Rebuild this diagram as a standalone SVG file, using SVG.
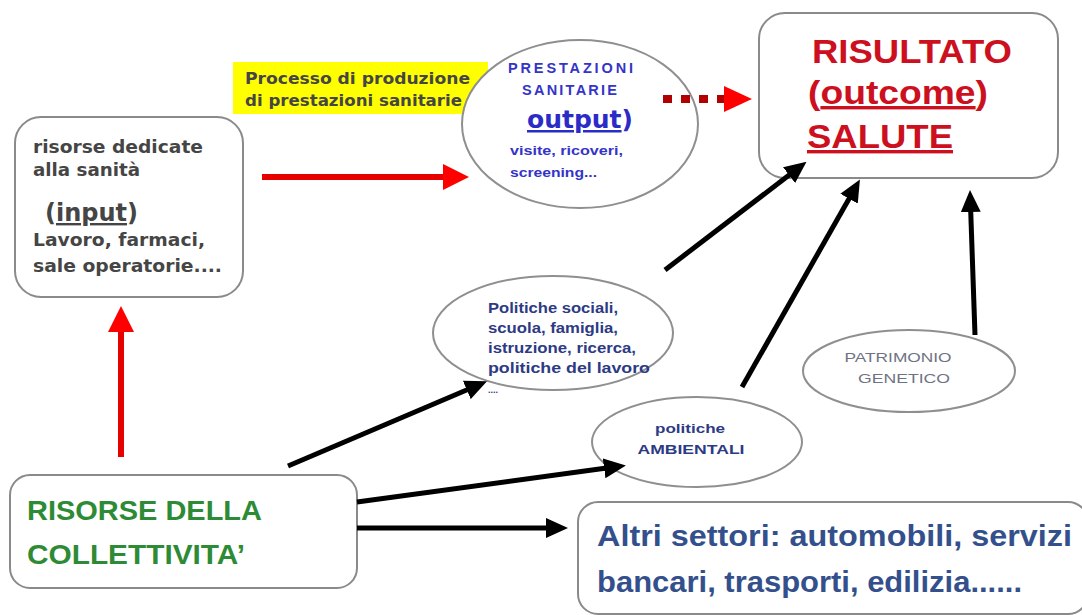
<svg xmlns="http://www.w3.org/2000/svg" width="1082" height="615" viewBox="0 0 1082 615">
<style>
.box{fill:#fff;stroke:#8a8a8a;stroke-width:2}
.ell{fill:#fff;stroke:#8f8f8f;stroke-width:2}
.gray{font-family:"DejaVu Sans",sans-serif;font-weight:bold;fill:#454545}
.blue{font-family:"Liberation Sans",sans-serif;font-weight:bold;fill:#3434c8}
.navy{font-family:"Liberation Sans",sans-serif;font-weight:bold;fill:#2d3a84}
.red{font-family:"Liberation Sans",sans-serif;font-weight:bold;fill:#cc1020}
.pat{font-family:"Liberation Sans",sans-serif;fill:#6e7382}
.green{font-family:"Liberation Sans",sans-serif;font-weight:bold;fill:#2e8b35}
.alt{font-family:"Liberation Sans",sans-serif;font-weight:bold;fill:#34508c}
.ra{stroke:#e60000;stroke-width:6;fill:none;marker-end:url(#rh)}
.ba{stroke:#000;stroke-width:5;fill:none;marker-end:url(#bh)}
</style>
<defs>
<marker id="rh" markerUnits="userSpaceOnUse" markerWidth="26" markerHeight="26" refX="12" refY="13" orient="auto">
<path d="M0,0 L26,13 L0,26 z" fill="#ff0000"/>
</marker>
<marker id="bh" markerUnits="userSpaceOnUse" markerWidth="22" markerHeight="20" refX="10" refY="10" orient="auto">
<path d="M0,0 L22,10 L0,20 z" fill="#000"/>
</marker>
</defs>
<rect width="1082" height="615" fill="#fff"/>

<g id="input">
<rect class="box" x="15" y="117" width="228" height="180" rx="26"/>
<text class="gray" x="33" y="153" font-size="18" textLength="170" lengthAdjust="spacingAndGlyphs">risorse dedicate</text>
<text class="gray" x="33" y="176" font-size="18" textLength="107" lengthAdjust="spacingAndGlyphs">alla sanità</text>
<text class="gray" x="45" y="221" font-size="24">(<tspan text-decoration="underline">input</tspan>)</text>
<text class="gray" x="33" y="246" font-size="18" textLength="172" lengthAdjust="spacingAndGlyphs">Lavoro,  farmaci,</text>
<text class="gray" x="33" y="272" font-size="18" textLength="189" lengthAdjust="spacingAndGlyphs">sale operatorie....</text>
</g>

<g id="processo">
<rect x="233" y="62" width="255" height="52" fill="#ffff00"/>
<text class="gray" x="245" y="84" font-size="16" fill="#333" textLength="225" lengthAdjust="spacingAndGlyphs">Processo di produzione</text>
<text class="gray" x="245" y="106" font-size="16" fill="#333" textLength="217" lengthAdjust="spacingAndGlyphs">di prestazioni sanitarie</text>
</g>

<g id="output">
<ellipse class="ell" cx="580" cy="124" rx="118" ry="84"/>
<text class="blue" x="508" y="73" font-size="14.5" textLength="125">PRESTAZIONI</text>
<text class="blue" x="522" y="95" font-size="14.5" textLength="95">SANITARIE</text>
<text x="527" y="128" font-family="DejaVu Sans,sans-serif" font-weight="bold" font-size="25" fill="#2b2bc8"><tspan text-decoration="underline">output</tspan>)</text>
<text class="blue" x="510" y="155" font-size="12" textLength="113" lengthAdjust="spacingAndGlyphs">visite, ricoveri,</text>
<text class="blue" x="510" y="177" font-size="12" textLength="87" lengthAdjust="spacingAndGlyphs">screening...</text>
</g>

<g id="risultato">
<rect class="box" x="759" y="13" width="299" height="165" rx="26"/>
<text class="red" x="812" y="63" font-size="34" textLength="200" lengthAdjust="spacingAndGlyphs">RISULTATO</text>
<text class="red" x="808" y="104" font-size="34" textLength="180" lengthAdjust="spacingAndGlyphs">(<tspan text-decoration="underline">outcome</tspan>)</text>
<text class="red" x="807" y="148" font-size="34" textLength="146" lengthAdjust="spacingAndGlyphs" text-decoration="underline">SALUTE</text>
</g>

<g id="politiche">
<ellipse class="ell" cx="553" cy="333" rx="120" ry="57"/>
<text class="navy" x="488" y="313" font-size="14" textLength="130" lengthAdjust="spacingAndGlyphs">Politiche sociali,</text>
<text class="navy" x="488" y="333" font-size="14" textLength="130" lengthAdjust="spacingAndGlyphs">scuola, famiglia,</text>
<text class="navy" x="488" y="353" font-size="14" textLength="148" lengthAdjust="spacingAndGlyphs">istruzione, ricerca,</text>
<text class="navy" x="488" y="373" font-size="14" textLength="162" lengthAdjust="spacingAndGlyphs">politiche del lavoro</text>
<text class="navy" x="488" y="393" font-size="9">....</text>
</g>

<g id="ambientali">
<ellipse class="ell" cx="697" cy="442" rx="105" ry="45"/>
<text class="navy" x="690" y="433" font-size="13" text-anchor="middle" textLength="70" lengthAdjust="spacingAndGlyphs">politiche</text>
<text class="navy" x="691" y="454" font-size="13.5" text-anchor="middle" textLength="107" lengthAdjust="spacingAndGlyphs">AMBIENTALI</text>
</g>

<g id="patrimonio">
<ellipse class="ell" cx="909" cy="371" rx="106" ry="41"/>
<text class="pat" x="898" y="362" font-size="13.5" text-anchor="middle" textLength="107" lengthAdjust="spacingAndGlyphs">PATRIMONIO</text>
<text class="pat" x="904" y="383" font-size="13.5" text-anchor="middle" textLength="92" lengthAdjust="spacingAndGlyphs">GENETICO</text>
</g>

<g id="collettivita">
<rect class="box" x="10" y="475" width="347" height="113" rx="20"/>
<text class="green" x="27" y="520" font-size="28" textLength="235" lengthAdjust="spacingAndGlyphs">RISORSE DELLA</text>
<text class="green" x="27" y="564" font-size="28" textLength="218" lengthAdjust="spacingAndGlyphs">COLLETTIVITA’</text>
</g>

<g id="altri">
<rect class="box" x="578" y="502" width="510" height="112" rx="20"/>
<text class="alt" x="597" y="546" font-size="29" textLength="475" lengthAdjust="spacingAndGlyphs">Altri settori: automobili, servizi</text>
<text class="alt" x="597" y="592" font-size="29" textLength="425" lengthAdjust="spacingAndGlyphs">bancari, trasporti, edilizia......</text>
</g>

<g id="connectors">
<line class="ra" x1="262" y1="177" x2="455" y2="177"/>
<line class="ra" x1="121" y1="457" x2="121" y2="320"/>
<line x1="663" y1="99" x2="725" y2="99" stroke="#b00000" stroke-width="8" stroke-dasharray="9 9"/>
<path d="M724,86 L752,99 L724,112 z" fill="#ff0000"/>
<line class="ba" x1="665" y1="270" x2="797" y2="169"/>
<line class="ba" x1="742" y1="387" x2="854" y2="190"/>
<line class="ba" x1="975" y1="335" x2="970.4" y2="202"/>
<line class="ba" x1="288" y1="466" x2="476" y2="386"/>
<line class="ba" x1="357" y1="502" x2="614" y2="467"/>
<line class="ba" x1="357" y1="528" x2="556" y2="528"/>
</g>
</svg>
